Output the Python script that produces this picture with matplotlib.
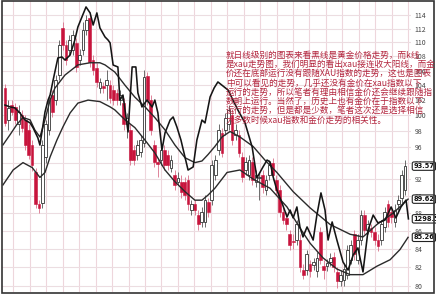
import matplotlib
matplotlib.use('Agg')
import matplotlib.pyplot as plt
import matplotlib.ticker as mticker
import matplotlib.transforms as mtrans
from matplotlib.patches import Rectangle
import numpy as np

plt.rcParams['font.family'] = ['Noto Sans CJK SC', 'DejaVu Sans']

# ---- XAU daily candles ----
opens = [103.6, 99.4, 101.4, 101.1, 98.8, 100.0, 99.4, 98.1, 96.2, 92.9,
         89.0, 89.2, 94.7, 98.1, 102.7, 102.0, 105.4, 112.1, 109.6, 108.9,
         108.9, 109.9, 107.5, 108.9, 111.8, 113.6, 107.5, 106.4, 103.6, 103.9,
         104.0, 104.0, 103.4, 103.0, 102.0, 101.6, 98.8, 98.1, 95.6, 95.0,
         95.3, 96.5, 105.2, 102.0, 96.2, 94.1, 94.3, 95.6, 95.0, 93.4,
         92.5, 91.7, 91.7, 91.6, 91.9, 88.4, 89.0, 87.8, 87.0, 87.0,
         89.3, 89.5, 92.5, 95.6, 97.7, 98.1, 98.8, 100.0, 97.5, 97.5,
         94.7, 93.1, 92.5, 94.1, 91.6, 92.1, 92.5, 90.7, 92.5, 94.0,
         91.9, 90.7, 88.1, 87.4, 85.6, 84.8, 85.0, 85.0, 81.7, 81.7,
         82.3, 82.2, 81.6, 85.8, 82.1, 82.1, 82.6, 83.1, 81.5, 80.5,
         80.6, 81.2, 82.8, 85.6, 82.8, 85.0, 87.8, 86.1, 86.3, 85.9,
         85.0, 85.0, 86.4, 89.0, 88.1, 87.0, 89.0, 89.8, 90.7]
closes = [99.0, 101.0, 100.4, 99.4, 100.4, 98.4, 96.2, 95.0, 93.7, 89.0,
          88.6, 96.2, 98.8, 102.0, 100.4, 104.7, 109.6, 109.6, 107.5, 110.3,
          111.1, 106.5, 108.2, 111.8, 113.3, 107.2, 106.1, 104.4, 104.4, 103.6,
          104.7, 102.3, 102.0, 102.0, 102.7, 98.8, 99.7, 94.3, 94.3, 96.2,
          96.8, 105.1, 102.0, 98.1, 94.1, 93.8, 95.6, 93.7, 93.7, 94.3,
          91.3, 92.1, 90.5, 90.1, 89.0, 89.0, 88.4, 86.7, 88.1, 89.5,
          88.1, 93.7, 94.3, 98.1, 95.2, 99.7, 100.7, 96.8, 98.1, 95.2,
          92.2, 94.1, 94.3, 91.9, 92.5, 92.3, 91.0, 91.9, 93.7, 92.5,
          90.7, 88.1, 87.2, 86.7, 84.4, 84.7, 86.7, 82.0, 81.2, 83.4,
          81.6, 82.5, 83.0, 82.8, 81.7, 82.4, 83.0, 82.0, 80.5, 81.2,
          81.8, 83.9, 84.4, 83.4, 85.0, 87.8, 86.1, 86.7, 85.9, 85.0,
          84.3, 86.7, 88.1, 87.0, 87.5, 88.4, 89.5, 92.5, 93.57]
highs = [104.2, 102.0, 102.0, 101.6, 101.4, 100.7, 100.0, 98.8, 96.8, 93.3,
         89.5, 96.8, 99.4, 102.7, 103.4, 105.4, 110.3, 113.0, 110.3, 111.0,
         111.8, 110.6, 109.0, 113.0, 114.0, 114.4, 108.2, 107.0, 105.0, 104.4,
         106.1, 104.7, 104.0, 103.5, 103.4, 102.3, 100.3, 98.8, 96.2, 96.8,
         97.5, 106.1, 105.8, 102.7, 96.8, 94.5, 96.2, 96.2, 95.6, 95.0,
         93.1, 92.8, 92.5, 92.3, 92.5, 89.5, 89.5, 88.4, 88.7, 90.1,
         89.8, 94.3, 95.0, 98.8, 98.4, 100.3, 101.4, 100.7, 98.8, 98.1,
         95.3, 94.7, 95.0, 94.7, 93.1, 92.8, 93.1, 92.5, 94.3, 94.6,
         92.5, 91.3, 88.7, 88.1, 86.1, 85.6, 87.2, 85.6, 82.3, 83.9,
         82.8, 83.0, 83.6, 86.4, 82.8, 82.9, 83.5, 83.6, 82.0, 81.7,
         82.3, 84.4, 85.0, 86.1, 85.6, 88.4, 88.4, 87.2, 86.7, 86.4,
         85.6, 87.2, 88.7, 89.5, 88.7, 89.0, 90.1, 93.1, 94.3]
lows = [98.6, 98.1, 100.0, 98.8, 97.5, 97.8, 95.6, 94.5, 93.0, 88.6,
        88.0, 88.6, 94.0, 97.5, 99.8, 101.4, 104.7, 108.9, 106.8, 108.2,
        108.2, 105.8, 106.8, 108.2, 111.0, 106.5, 105.4, 103.7, 103.0, 103.0,
        102.0, 101.6, 101.4, 101.4, 101.4, 98.1, 97.1, 93.7, 93.7, 94.3,
        94.7, 95.9, 101.4, 97.5, 93.5, 92.2, 93.7, 93.1, 93.1, 92.8,
        90.7, 91.3, 89.8, 89.5, 88.4, 87.8, 87.8, 86.1, 86.4, 86.4,
        87.5, 88.9, 91.9, 95.0, 94.7, 97.5, 98.1, 96.2, 96.8, 94.7,
        91.6, 92.5, 91.9, 91.3, 91.0, 89.5, 90.4, 90.1, 91.9, 91.9,
        90.1, 87.5, 86.7, 86.1, 83.9, 84.0, 84.4, 81.5, 80.7, 81.2,
        81.0, 81.7, 81.0, 82.3, 80.7, 81.6, 82.1, 81.5, 79.8, 80.0,
        80.0, 80.7, 82.3, 82.8, 82.3, 84.4, 85.6, 85.6, 85.3, 84.4,
        83.8, 84.4, 85.9, 86.4, 86.9, 86.4, 88.4, 89.2, 90.1]

# ---- moving-average lines (read at sample days) ----
ma_fast_day = [-0.6, 1.5, 3.5, 5.3, 7.4, 8.8, 10.3, 11.8, 13.3, 14.7, 17.7, 21.5, 25.1, 28.0,
               29.5, 32.4, 35.4, 38.3, 41.3, 44.2, 47.2, 50.1, 53.1, 56.0, 58.1, 59.9, 61.9,
               64.0, 66.4, 69.3, 73.2, 76.7, 80.2, 85.0, 90.0, 95.9, 101.8, 105.6, 109.7,
               114.5, 118.9]
ma_fast_val = [96.2, 97.5, 98.8, 99.7, 99.4, 98.1, 97.2, 99.4, 102.0, 103.6, 105.4, 106.8,
               107.1, 107.1, 106.8, 105.8, 104.0, 102.4, 101.1, 99.7, 98.1, 96.2, 94.6, 94.0,
               94.2, 95.0, 96.0, 97.2, 97.9, 97.2, 96.0, 94.3, 92.8, 90.5, 88.6, 86.7, 85.6,
               85.3, 86.7, 88.0, 89.62]
ma_slow_day = [-0.6, 2.4, 5.3, 8.0, 10.3, 11.8, 13.3, 15.3, 17.1, 19.2, 21.5, 24.5, 28.0,
               31.0, 32.4, 35.4, 38.3, 41.3, 44.2, 47.2, 50.1, 53.1, 56.0, 58.1, 59.9, 61.9,
               65.5, 69.3, 73.2, 78.2, 83.2, 87.0, 90.0, 93.8, 97.9, 101.8, 105.6, 109.7,
               113.6, 116.5, 118.9]
ma_slow_val = [91.3, 93.1, 94.0, 93.4, 92.2, 92.8, 94.7, 96.8, 98.5, 100.3, 101.6, 102.0,
               101.8, 101.1, 100.7, 99.4, 98.4, 96.8, 95.2, 93.1, 91.7, 90.5, 89.5, 89.5,
               90.1, 90.9, 92.8, 93.1, 92.0, 90.9, 88.7, 86.3, 84.6, 83.0, 81.8, 81.2, 81.2,
               82.1, 82.8, 83.9, 85.26]

# ---- gold price (USD) ----
gold_day = [0.0, 1.5, 2.9, 4.4, 5.9, 7.4, 8.3, 9.7, 10.3, 10.9, 11.8, 12.7, 13.3, 14.2, 15.6,
            16.8, 17.7, 19.2, 20.6, 21.5, 22.7, 23.9, 25.1, 26.0, 27.1, 28.0, 29.5, 30.4, 31.0,
            31.9, 33.3, 33.9, 34.8, 36.3, 37.5, 38.6, 39.2, 40.4, 41.9, 43.4, 44.2, 45.1, 46.3,
            47.2, 48.7, 49.6, 50.7, 51.9, 52.8, 54.0, 55.5, 56.6, 58.1, 59.0, 60.5, 61.7, 62.8,
            65.8, 68.7, 70.8, 72.9, 74.3, 76.1, 77.3, 78.2, 79.1, 80.2, 81.7, 83.2, 84.1, 85.0,
            86.1, 87.0, 87.9, 89.1, 90.9, 92.0, 93.2, 94.4, 95.3, 96.5, 97.9, 99.7, 101.2,
            102.7, 104.1, 105.6, 107.1, 108.6, 110.0, 112.1, 113.9, 115.3, 116.8, 118.3, 119.0]
gold_val = [1346.3, 1345.5, 1345.1, 1343.0, 1340.0, 1338.8, 1336.7, 1332.5, 1329.5, 1335.0,
            1343.4, 1348.4, 1350.5, 1356.8, 1366.1, 1366.5, 1365.2, 1367.3, 1373.6, 1379.1,
            1383.3, 1387.5, 1385.0, 1379.9, 1385.0, 1378.7, 1374.9, 1373.6, 1372.4, 1363.1,
            1362.3, 1348.4, 1350.5, 1335.0, 1362.3, 1362.3, 1351.4, 1345.5, 1348.4, 1345.5,
            1348.4, 1343.0, 1327.4, 1334.6, 1340.0, 1341.3, 1337.1, 1331.6, 1326.2, 1319.0,
            1320.3, 1331.6, 1340.0, 1338.8, 1349.7, 1353.5, 1356.0, 1352.6, 1344.2, 1338.8,
            1328.7, 1315.7, 1320.3, 1323.2, 1322.4, 1316.1, 1310.6, 1305.2, 1299.3, 1302.2,
            1298.9, 1303.5, 1295.1, 1290.9, 1295.1, 1289.6, 1300.1, 1309.4, 1302.2, 1289.6,
            1297.2, 1289.6, 1280.4, 1277.0, 1283.3, 1286.3, 1276.2, 1293.8, 1300.1, 1296.8,
            1298.0, 1303.5, 1298.9, 1303.5, 1306.4, 1298.5]

y_ticks = list(range(80, 116, 2))

note_lines = [
    "就日线级别的图表来看黑线是黄金价格走势，而k线",
    "是xau走势图，我们明显的看出xau接连收大阳线，而金",
    "价还在底部运行没有跟随XAU指数的走势，这也是图表",
    "中可以看见的走势，几乎还没有金价在xau指数以下",
    "运行的走势，所以笔者有理由相信金价还会继续跟随指",
    "数朝上运行。当然了，历史上也有金价在于指数以下",
    "运行的走势，但是都是少数，笔者这次还是选择相信",
    "大多数时候xau指数和金价走势的相关性。",
]

W, H = 436, 295
fig = plt.figure(figsize=(W / 100, H / 100), dpi=100)
fig.patch.set_facecolor('white')
ax = fig.add_axes([2 / W, 1 - 292 / H, (411 - 2) / W, (292 - 1) / H])
ax2 = ax.twinx()
ax.set_yscale('log')
ax.set_ylim(79.38, 116.1)
ax.set_xlim(-0.885, 119.76)

n = len(opens)
x = np.arange(n)
o = np.array(opens); c = np.array(closes); h = np.array(highs); l = np.array(lows)
up = c >= o
red = '#c8143c'

# wicks
ax.vlines(x[up], l[up], h[up], color='#555555', lw=0.6, zorder=2)
ax.vlines(x[~up], l[~up], h[~up], color='#d9708a', lw=0.6, zorder=2)
# bodies
bw = 0.8
ax.bar(x[~up], c[~up] - o[~up], bottom=o[~up], width=bw, color=red, edgecolor=red,
       lw=0.4, zorder=3)
ax.bar(x[up], c[up] - o[up], bottom=o[up], width=bw, color='white', edgecolor='#333333',
       lw=0.6, zorder=3)

# moving averages
ax.plot(ma_fast_day, ma_fast_val, color='#2a2a2a', lw=1.0, zorder=4)
ax.plot(ma_slow_day, ma_slow_val, color='#2a2a2a', lw=1.0, zorder=4)

# grid
ax.set_yticks(y_ticks)
ax.yaxis.set_minor_locator(mticker.NullLocator())
ax.yaxis.set_major_formatter(mticker.FormatStrFormatter('%d'))
ax.set_xticks(np.arange(2.5, 119, 4.85))
ax.xaxis.set_major_formatter(mticker.NullFormatter())
ax.grid(True, axis='y', color='#ecdde1', lw=0.8, zorder=0)
ax.grid(True, axis='x', color='#eed6dc', lw=0.8, zorder=0)
ax.set_axisbelow(True)
ax.yaxis.tick_right()
ax.yaxis.set_label_position('right')
ax.tick_params(axis='y', which='both', left=False, right=False, labelleft=False,
               labelright=True, length=0, labelsize=5, labelcolor='#444444', pad=2.5)
ax.tick_params(axis='x', length=0)
for s in ax.spines.values():
    s.set_visible(False)
ax.axvline(119.76, color='#aaaaaa', lw=0.6, ls=(0, (2, 2)), zorder=1)

# gold line on its own scale
ax2.set_ylim(1267.78, 1390)
ax2.plot(gold_day, gold_val, color='#151515', lw=1.15, zorder=5)
ax2.set_yticks([])
for s in ax2.spines.values():
    s.set_visible(False)
ax2.patch.set_visible(False)

# value boxes
bt = mtrans.blended_transform_factory(ax.transAxes, ax.transData)
bt2 = mtrans.blended_transform_factory(ax2.transAxes, ax2.transData)
box = dict(boxstyle='round,pad=0.18,rounding_size=0.25', fc='white', ec='#222222', lw=0.8)
for val, tr, txt in [(closes[-1], bt, f'{closes[-1]:.2f}'),
                     (ma_fast_val[-1], bt, f'{ma_fast_val[-1]:.2f}'),
                     (ma_slow_val[-1], bt, f'{ma_slow_val[-1]:.2f}'),
                     (gold_val[-1], bt2, f'{gold_val[-1]:.1f}')]:
    ax2.text(1.006, val, txt, transform=tr, fontsize=4.8, fontweight='bold', color='#111111',
             va='center', ha='left', bbox=box, clip_on=False, zorder=10,
             family=['DejaVu Sans'])

# note text
for k, line in enumerate(note_lines):
    fig.text(226 / W, 1 - (55 + 9.3 * k) / H, line, fontsize=6.2, color='#b3263e',
             va='center', ha='left', zorder=20)

# outer frame
fig.patches.append(Rectangle((1.5 / W, 1 - 293 / H), (434 - 1.5) / W, (293 - 1) / H,
                             transform=fig.transFigure, fill=False, ec='#333333', lw=1.2))

fig.savefig('out.png', dpi=100, facecolor='white')
